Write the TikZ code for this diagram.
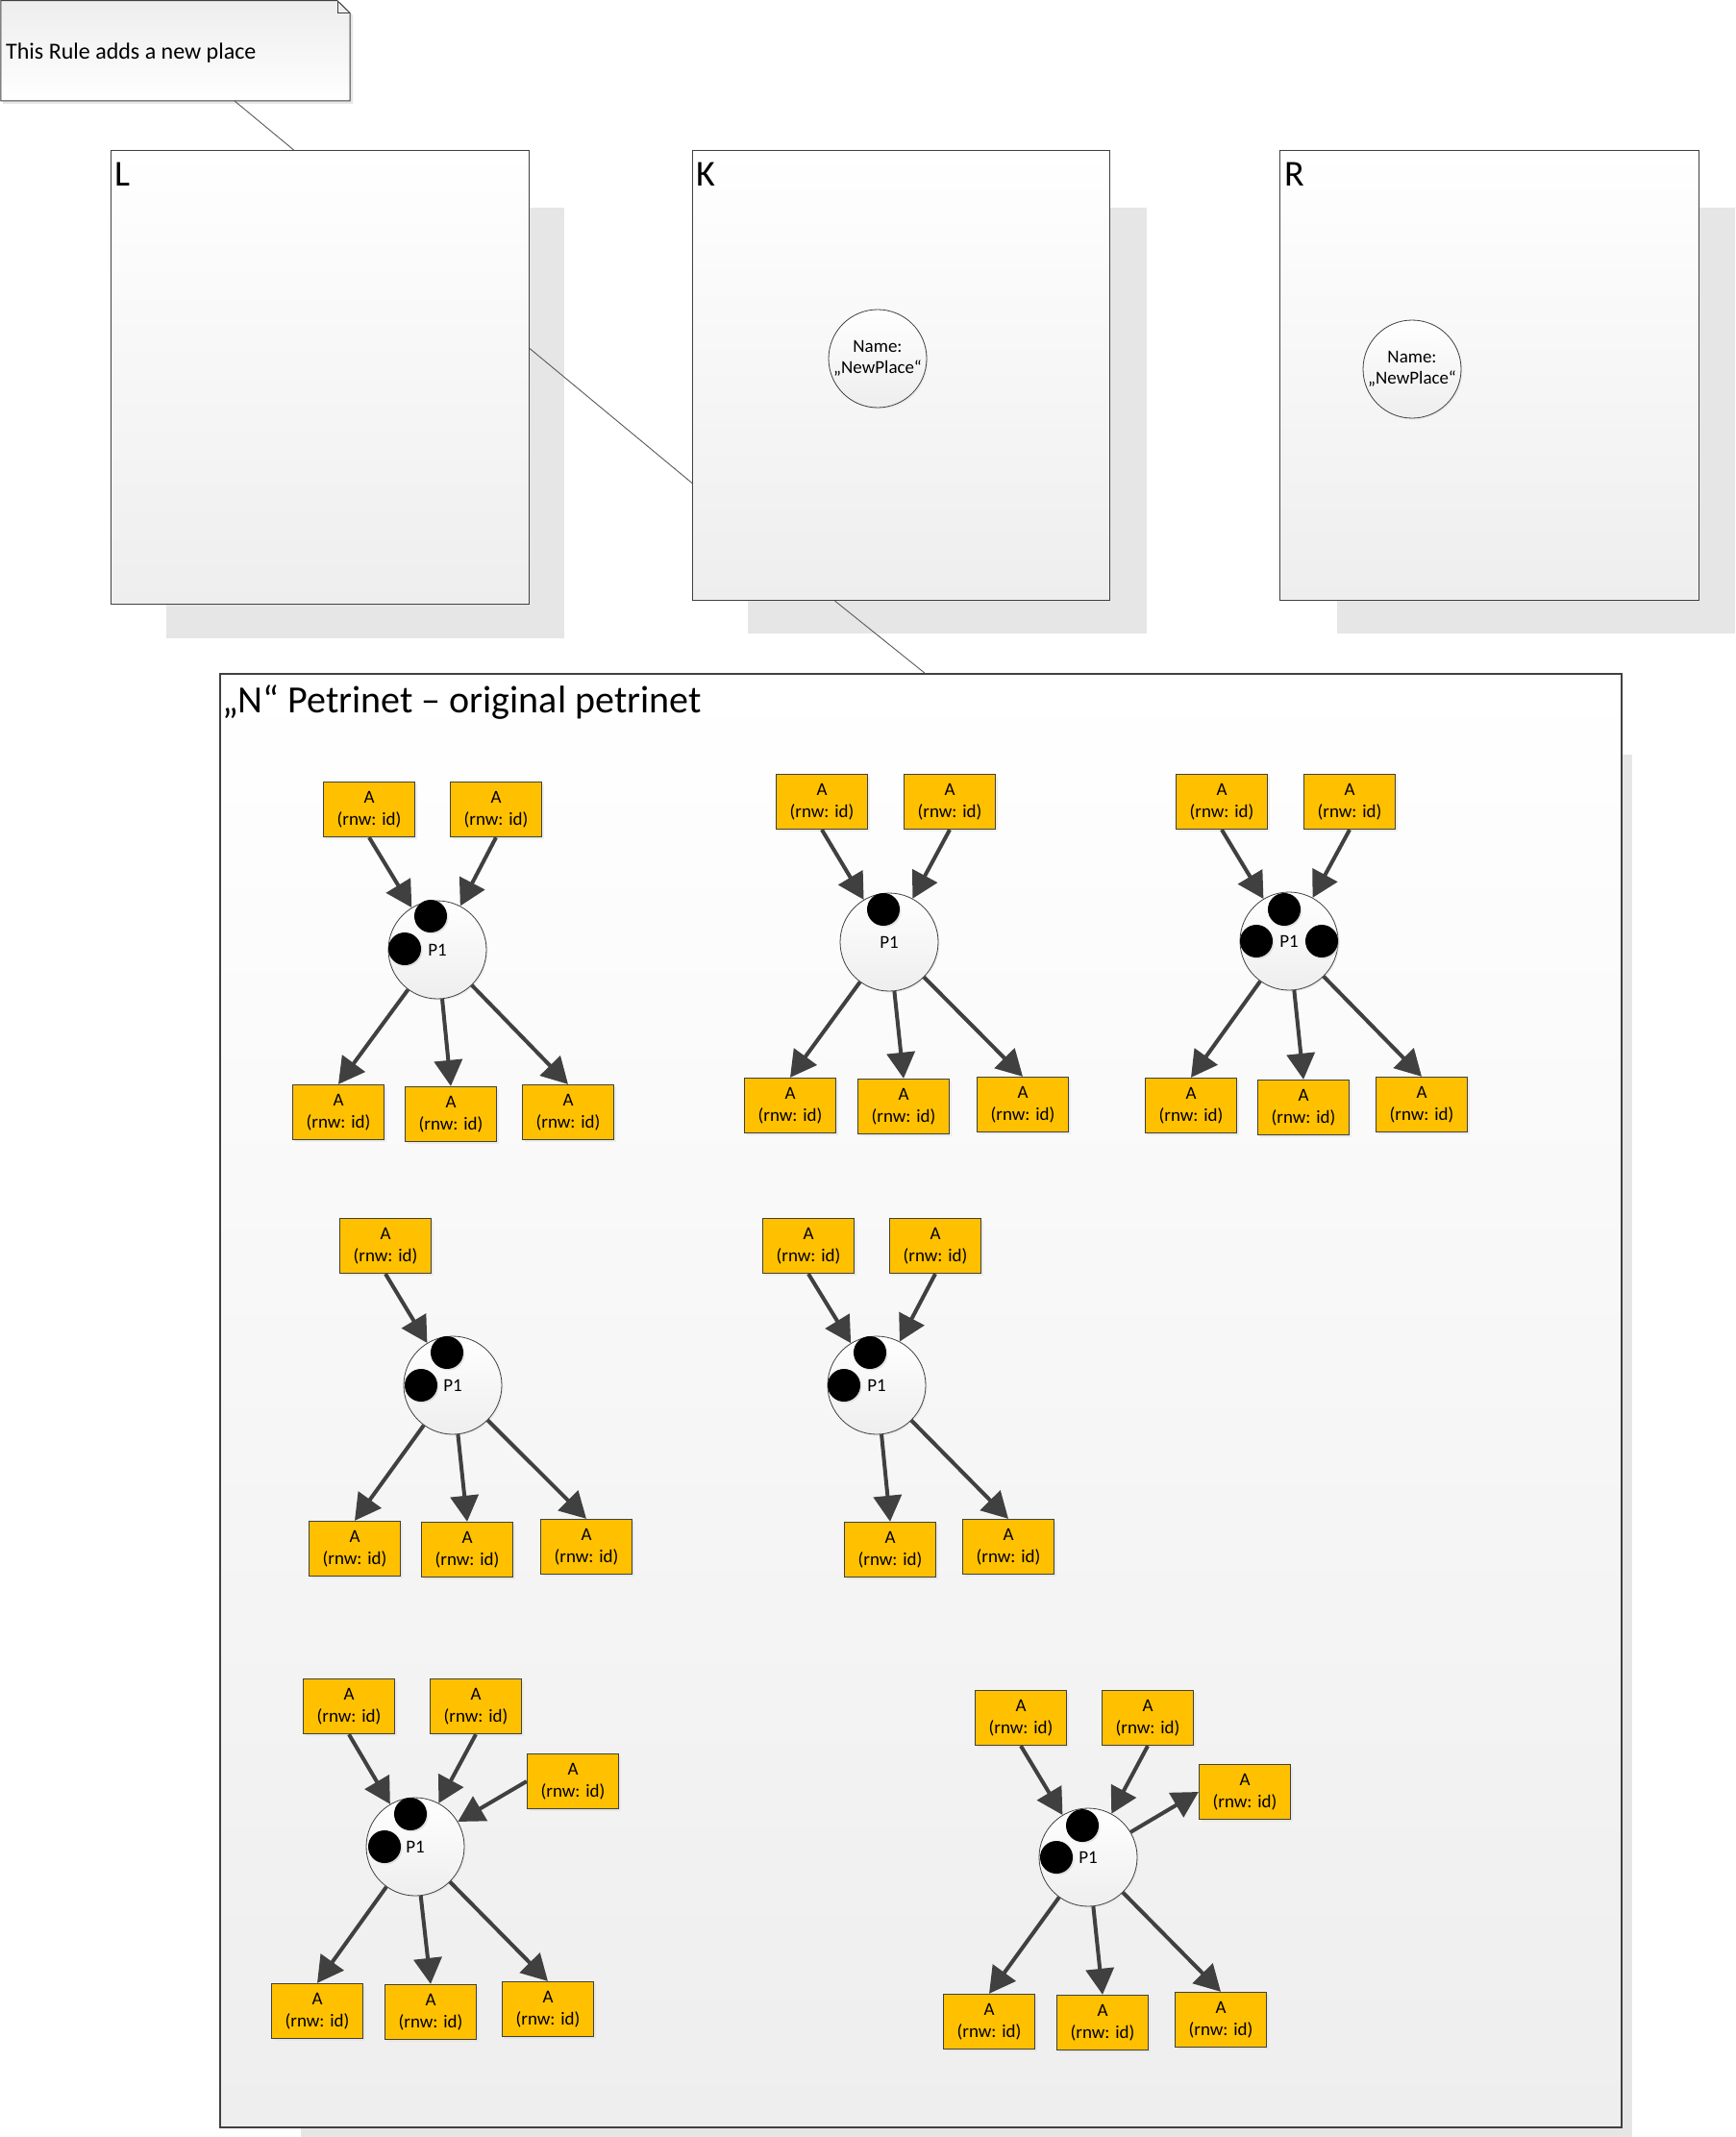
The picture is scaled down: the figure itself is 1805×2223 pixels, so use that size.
\documentclass[tikz,border=0pt]{standalone}
\usepackage{fontspec}
\setmainfont{Carlito}
\usetikzlibrary{arrows.meta,shadows}
\definecolor{edge}{HTML}{404040}
\definecolor{ybox}{HTML}{FFC000}
\definecolor{shad}{HTML}{E6E6E6}
\definecolor{conn}{HTML}{595959}
\definecolor{botgray}{HTML}{EEEEEE}
\begin{document}
\begin{tikzpicture}[x=1pt,y=-1pt,
  tr/.style={draw=edge, line width=1.3pt, fill=ybox, minimum width=95pt, minimum height=57pt,
    inner sep=0pt, align=center, font=\fontsize{19}{23}\selectfont,
    drop shadow={shadow xshift=2pt,shadow yshift=-2pt,fill=black!12}},
  pl/.style={circle, draw=edge, line width=0.8pt, top color=white, bottom color=botgray,
    minimum size=102pt, inner sep=0pt, font=\fontsize{19}{22}\selectfont, align=center,
    drop shadow={shadow xshift=1.5pt,shadow yshift=-1.5pt,fill=black!12}},
  tok/.style={circle, fill=black, minimum size=34pt, inner sep=0pt,
    drop shadow={shadow xshift=1.5pt,shadow yshift=-1.5pt,fill=black!20}},
  arc/.style={draw=edge, line width=4pt, -{Triangle[length=27pt,width=29pt]}},
  bigbox/.style={draw=edge, line width=1.1pt, top color=white, bottom color=botgray,
    anchor=north west, inner sep=0pt},
  lab/.style={anchor=base west, inner sep=0pt, font=\fontsize{38}{44}\selectfont},
  conline/.style={draw=conn, line width=0.9pt},
  shadowbox/.style={fill=shad}
]
\useasboundingbox (0,0) rectangle (1805,2223);
\fill[white] (0,0) rectangle (1805,2223);

% shadows of the big boxes
\fill[shadowbox] (173,216) rectangle (587,664);
\fill[shadowbox] (778,216) rectangle (1193,659);
\fill[shadowbox] (1391,216) rectangle (1805,659);
\fill[shadowbox] (313,785) rectangle (1698,2223);

% note
\fill[black!10] (3,3) -- (354,3) -- (367,16) -- (367,108) -- (3,108) -- cycle;
\path[draw=edge, line width=1pt, top color=black!7, bottom color=white]
  (0.75,0.75) -- (351,0.75) -- (364,13.5) -- (364,105) -- (0.75,105) -- cycle;
\draw[edge, line width=0.8pt] (351,0.75) -- (351,13.5) -- (364,13.5);
\node[anchor=west, inner sep=0pt, font=\fontsize{24}{28}\selectfont] (note) at (6,55) {This Rule adds a new place};
\coordinate (notebot) at (244,105);

% L, K, R boxes
\node[bigbox, minimum width=435pt, minimum height=472pt] (L) at (115,156) {};
\node[bigbox, minimum width=434pt, minimum height=468pt] (K) at (720,156) {};
\node[bigbox, minimum width=436pt, minimum height=468pt] (R) at (1331,156) {};
\node[lab] (Llab) at (119,194) {L};
\node[lab] (Klab) at (724,194) {K};
\node[lab] (Rlab) at (1336,194) {R};

\node[pl] (kc) at (913,373) {Name:\\„NewPlace“};
\node[pl] (rc) at (1469,384) {Name:\\„NewPlace“};

% N box
\node[bigbox, line width=1.6pt, minimum width=1458pt, minimum height=1512pt] (N) at (228,700) {};
\node[anchor=base west, inner sep=0pt, font=\fontsize{40}{46}\selectfont] (Nlab) at (231,741) {„N“ Petrinet – original petrinet};

% connectors between boxes
\draw[conline] (notebot) -- ([xshift=-27.5pt]L.north);
\draw[conline] ([yshift=30pt]L.east) -- ([yshift=-112pt]K.west);
\draw[conline] ([xshift=-69pt]K.south) -- ([xshift=4pt]N.north);

% ---------- group 1
\node[tr] (g1t1) at (384,842) {A\\(rnw: id)};
\node[tr] (g1t2) at (516,842) {A\\(rnw: id)};
\node[pl] (g1p) at (455,988) {P1};
\node[tok] (g1k1) at (448,953) {};
\node[tok] (g1k2) at (421,987) {};
\node[tr] (g1b1) at (352,1157) {A\\(rnw: id)};
\node[tr] (g1b2) at (469,1159) {A\\(rnw: id)};
\node[tr] (g1b3) at (591,1157) {A\\(rnw: id)};
\draw[arc] (g1t1.south) -- (g1p);
\draw[arc] (g1t2.south) -- (g1p);
\draw[arc] (g1p) -- (g1b1.north);
\draw[arc] (g1p) -- (g1b2.north);
\draw[arc] (g1p) -- (g1b3.north);

% ---------- group 2
\node[tr] (g2t1) at (855,834) {A\\(rnw: id)};
\node[tr] (g2t2) at (988,834) {A\\(rnw: id)};
\node[pl] (g2p) at (925,980) {P1};
\node[tok] (g2k1) at (919,946) {};
\node[tr] (g2b1) at (822,1150) {A\\(rnw: id)};
\node[tr] (g2b2) at (940,1151) {A\\(rnw: id)};
\node[tr] (g2b3) at (1064,1149) {A\\(rnw: id)};
\draw[arc] (g2t1.south) -- (g2p);
\draw[arc] (g2t2.south) -- (g2p);
\draw[arc] (g2p) -- (g2b1.north);
\draw[arc] (g2p) -- (g2b2.north);
\draw[arc] (g2p) -- (g2b3.north);

% ---------- group 3
\node[tr] (g3t1) at (1271,834) {A\\(rnw: id)};
\node[tr] (g3t2) at (1404,834) {A\\(rnw: id)};
\node[pl] (g3p) at (1341,979) {P1};
\node[tok] (g3k1) at (1336,946) {};
\node[tok] (g3k2) at (1307,979) {};
\node[tok] (g3k3) at (1375,979) {};
\node[tr] (g3b1) at (1239,1150) {A\\(rnw: id)};
\node[tr] (g3b2) at (1356,1152) {A\\(rnw: id)};
\node[tr] (g3b3) at (1479,1149) {A\\(rnw: id)};
\draw[arc] (g3t1.south) -- (g3p);
\draw[arc] (g3t2.south) -- (g3p);
\draw[arc] (g3p) -- (g3b1.north);
\draw[arc] (g3p) -- (g3b2.north);
\draw[arc] (g3p) -- (g3b3.north);

% ---------- group 4
\node[tr] (g4t1) at (401,1296) {A\\(rnw: id)};
\node[pl] (g4p) at (471,1441) {P1};
\node[tok] (g4k1) at (465,1407) {};
\node[tok] (g4k2) at (438,1441) {};
\node[tr] (g4b1) at (369,1611) {A\\(rnw: id)};
\node[tr] (g4b2) at (486,1612) {A\\(rnw: id)};
\node[tr] (g4b3) at (610,1609) {A\\(rnw: id)};
\draw[arc] (g4t1.south) -- (g4p);
\draw[arc] (g4p) -- (g4b1.north);
\draw[arc] (g4p) -- (g4b2.north);
\draw[arc] (g4p) -- (g4b3.north);

% ---------- group 5
\node[tr] (g5t1) at (841,1296) {A\\(rnw: id)};
\node[tr] (g5t2) at (973,1296) {A\\(rnw: id)};
\node[pl] (g5p) at (912,1441) {P1};
\node[tok] (g5k1) at (905,1407) {};
\node[tok] (g5k2) at (878,1441) {};
\node[tr] (g5b1) at (926,1612) {A\\(rnw: id)};
\node[tr] (g5b2) at (1049,1609) {A\\(rnw: id)};
\draw[arc] (g5t1.south) -- (g5p);
\draw[arc] (g5t2.south) -- (g5p);
\draw[arc] (g5p) -- (g5b1.north);
\draw[arc] (g5p) -- (g5b2.north);

% ---------- group 6
\node[tr] (g6t1) at (363,1775) {A\\(rnw: id)};
\node[tr] (g6t2) at (495,1775) {A\\(rnw: id)};
\node[tr] (g6t3) at (596,1853) {A\\(rnw: id)};
\node[pl] (g6p) at (432,1921) {P1};
\node[tok] (g6k1) at (427,1887) {};
\node[tok] (g6k2) at (400,1921) {};
\node[tr] (g6b1) at (330,2092) {A\\(rnw: id)};
\node[tr] (g6b2) at (448,2093) {A\\(rnw: id)};
\node[tr] (g6b3) at (570,2090) {A\\(rnw: id)};
\draw[arc] (g6t1.south) -- (g6p);
\draw[arc] (g6t2.south) -- (g6p);
\draw[arc] (g6t3.west) -- (g6p);
\draw[arc] (g6p) -- (g6b1.north);
\draw[arc] (g6p) -- (g6b2.north);
\draw[arc] (g6p) -- (g6b3.north);

% ---------- group 7
\node[tr] (g7t1) at (1062,1787) {A\\(rnw: id)};
\node[tr] (g7t2) at (1194,1787) {A\\(rnw: id)};
\node[tr] (g7t3) at (1295,1864) {A\\(rnw: id)};
\node[pl] (g7p) at (1132,1932) {P1};
\node[tok] (g7k1) at (1126,1899) {};
\node[tok] (g7k2) at (1099,1932) {};
\node[tr] (g7b1) at (1029,2103) {A\\(rnw: id)};
\node[tr] (g7b2) at (1147,2104) {A\\(rnw: id)};
\node[tr] (g7b3) at (1270,2101) {A\\(rnw: id)};
\draw[arc] (g7t1.south) -- (g7p);
\draw[arc] (g7t2.south) -- (g7p);
\draw[arc] (g7p) -- (g7t3.west);
\draw[arc] (g7p) -- (g7b1.north);
\draw[arc] (g7p) -- (g7b2.north);
\draw[arc] (g7p) -- (g7b3.north);
\end{tikzpicture}
\end{document}
